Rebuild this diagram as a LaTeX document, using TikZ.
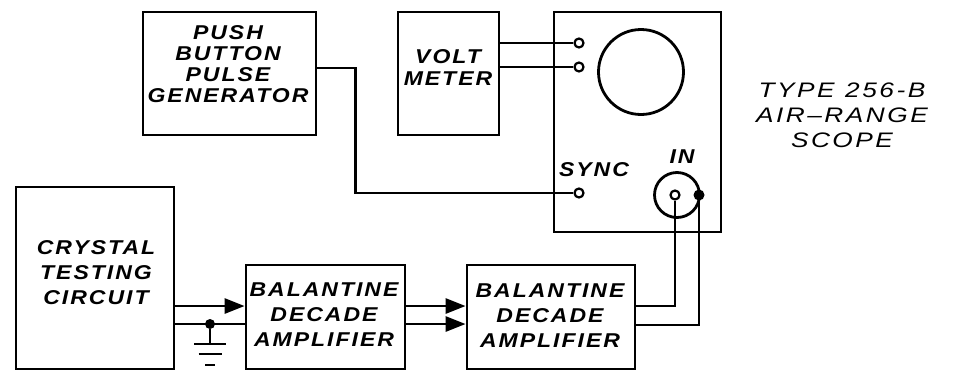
\documentclass[tikz,border=0pt]{standalone}
\usepackage{fontspec}
\setmainfont{Liberation Sans}
\newfontfamily\handfont[FakeStretch=1.15, LetterSpace=10]{Liberation Sans}
\newfontfamily\titlefont[FakeStretch=1.25, LetterSpace=12]{Liberation Sans}
\usepackage{tikz}
\usetikzlibrary{
	arrows.meta, 
	calc, 
	positioning
}

\tikzset{
	unit/.style={draw, line width=2.8pt, inner sep=0pt},
	lbl/.style={font=\handfont\bfseries\itshape\fontsize{20}{#1}\selectfont, align=center, inner sep=0pt},
	lbl/.default=25,
	wire/.style={line width=2.8pt},
	pin/.style={circle, draw, line width=2.2pt, fill=white, inner sep=0pt, minimum size=9pt},
	dotpin/.style={circle, fill, inner sep=0pt, minimum size=11pt},
	feed/.style={wire, -{Triangle[length=20pt, width=15pt]}}
}

\begin{document}
\begin{tikzpicture}[x=1pt, y=-1pt]
		\useasboundingbox (0,0) rectangle (964,381);
		% 上排：脉冲发生器、电压表、示波器
		\node[unit, minimum width=173pt, minimum height=123pt] (pbg) at (229.5,73.5) {};
		\node[lbl=21] (pbgtxt) at (228,64) {PUSH\\BUTTON\\PULSE\\GENERATOR};
		\node[unit, minimum width=101pt, minimum height=123pt] (vm) at (448.5,73.5) {};
		\node[lbl=22] (vmtxt) at (448,68) {VOLT\\METER};
		\node[unit, minimum width=167pt, minimum height=220pt] (scope) at (637.5,122) {};
		\node[circle, draw, line width=2.8pt, minimum size=85pt] (screen) at (641,72) {};
		\node[font=\titlefont\itshape\fontsize{21}{25}\selectfont, align=center, inner sep=0pt] (title) at (842,115)
			{TYPE\hspace{0.5em}256-B\\AIR\textendash RANGE\\SCOPE};
		% 示波器端子
		\node[pin] (vhi) at (579,43) {};
		\node[pin] (vlo) at (579,67) {};
		\node[pin] (sync) at (579,193) {};
		\node[lbl] (synctxt) at (594,170) {SYNC};
		\node[circle, draw, line width=2.8pt, minimum size=45pt] (jack) at (677,195) {};
		\node[pin] (inpin) at (675,195) {};
		\node[dotpin] (inshield) at (699,195) {};
		\node[lbl] (intxt) at (682,157) {IN};
		% 下排：晶体测试电路、两级放大器
		\node[unit, minimum width=158pt, minimum height=182pt] (cts) at (95,278) {};
		\node[lbl] (ctstxt) at (96,273) {CRYSTAL\\TESTING\\CIRCUIT};
		\node[unit, minimum width=159pt, minimum height=104pt] (amp1) at (325.5,317) {};
		\node[lbl] (amp1txt) at (324,315) {BALANTINE\\DECADE\\AMPLIFIER};
		\node[unit, minimum width=168pt, minimum height=104pt] (amp2) at (551,317) {};
		\node[lbl] (amp2txt) at (550,316) {BALANTINE\\DECADE\\AMPLIFIER};
		\coordinate (hi) at ([yshift=11pt]amp1.west);
		\coordinate (lo) at ([yshift=-7pt]amp1.west);
		% 连线
		\draw[wire] (vm.east |- vhi) -- (vhi.west);
		\draw[wire] (vm.east |- vlo) -- (vlo.west);
		\draw[wire] ([yshift=5.5pt]pbg.east) -- ++(38,0) |- (sync.west);
		\draw[feed] (cts.east |- hi) -- (hi);
		\draw[wire] (cts.east |- lo) -- (lo);
		\draw[feed] (amp1.east |- hi) -- (amp2.west |- hi);
		\draw[feed] (amp1.east |- lo) -- (amp2.west |- lo);
		\draw[wire] (inpin.south) |- (amp2.east |- hi);
		\draw[wire] (inshield.south) |- ([yshift=-1pt]amp2.east |- lo);
		% 接地
		\node[dotpin, minimum size=10pt] (gj) at ($(cts.east |- lo)!0.5!(lo)$) {};
		\draw[wire] (gj) -- ++(0,20) coordinate (g0);
		\draw[wire] ([xshift=-16pt]g0) -- ([xshift=16pt]g0);
		\draw[wire] ($(g0)+(-11.5,10)$) -- ($(g0)+(11.5,10)$);
		\draw[wire] ($(g0)+(-5,21)$) -- ($(g0)+(5,21)$);
	\end{tikzpicture}
\end{document}
